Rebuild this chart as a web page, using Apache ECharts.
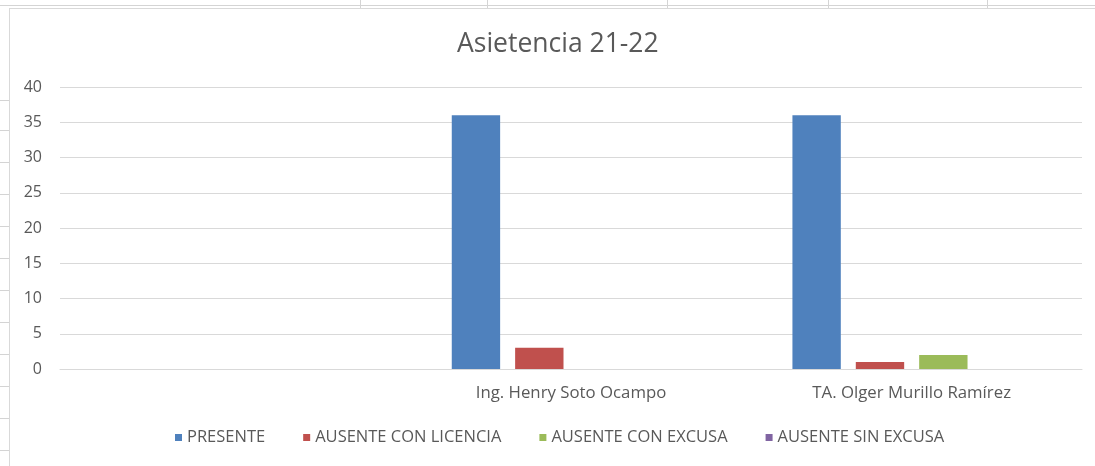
<!DOCTYPE html>
<html>
<head>
<meta charset="utf-8">
<script src="https://cdn.jsdelivr.net/npm/echarts@6/dist/echarts.min.js"></script>
<style>
  html, body { margin: 0; padding: 0; background: #fff; }
  .sheet { position: relative; width: 1095px; height: 466px; overflow: hidden; }
  .vline { position: absolute; top: 0; width: 1px; height: 8px; background: #d4d4d4; }
  .hline { position: absolute; left: 0; width: 9px; height: 1px; background: #d4d4d4; }
  .frame {
    position: absolute; left: 9px; top: 8px; width: 1090px; height: 460px;
    background: #fff; border: 1px solid #d9d9d9; box-sizing: border-box;
  }
  #main { position: absolute; left: 0; top: 0; width: 1095px; height: 466px; }
</style>
</head>
<body>
<div class="sheet">
  <div class="vline" style="left:360px"></div>
  <div class="vline" style="left:487px"></div>
  <div class="vline" style="left:667px"></div>
  <div class="vline" style="left:828px"></div>
  <div class="vline" style="left:987px"></div>
  <div class="hline" style="top:5px;width:1095px"></div>
  <div class="hline" style="top:100px"></div>
  <div class="hline" style="top:130px"></div>
  <div class="hline" style="top:162px"></div>
  <div class="hline" style="top:194px"></div>
  <div class="hline" style="top:226px"></div>
  <div class="hline" style="top:258px"></div>
  <div class="hline" style="top:290px"></div>
  <div class="hline" style="top:322px"></div>
  <div class="hline" style="top:354px"></div>
  <div class="hline" style="top:386px"></div>
  <div class="hline" style="top:418px"></div>
  <div class="hline" style="top:450px"></div>
  <div class="frame"></div>
  <div id="main"></div>
</div>
<script>
// datos
const categorias = ['', 'Ing. Henry Soto Ocampo', 'TA. Olger Murillo Ramírez']
const presente = [0, 36, 36]
const conLicencia = [0, 3, 1]
const conExcusa = [0, 0, 2]
const sinExcusa = [0, 0, 0]
const ticks = [0, 5, 10, 15, 20, 25, 30, 35, 40]

const colores = ['#4f81bd', '#c0504d', '#9bbb59', '#8064a2']
const fuente = 'Open Sans'
const gris = '#595959'

const chart = echarts.init(document.getElementById('main'))

const serie = (name, data) => ({
  name, type: 'bar', data,
  barGap: '31%', barCategoryGap: '30%'
})

chart.setOption({
  color: colores,
  backgroundColor: 'transparent',
  animation: false,
  title: {
    text: 'Asietencia 21-22', left: 452, top: 26,
    textStyle: { fontFamily: fuente, fontSize: 26.5, fontWeight: 'normal', color: gris }
  },
  legend: {
    top: 424, left: 170,
    itemWidth: 7, itemHeight: 7, itemGap: 38,
    icon: 'rect',
    textStyle: { fontFamily: fuente, fontSize: 16.5, color: gris }
  },
  grid: { left: 60, right: 13, top: 87, bottom: 97 },
  xAxis: {
    type: 'category', data: categorias,
    axisLine: { lineStyle: { color: '#d9d9d9' } },
    axisTick: { show: false },
    axisLabel: { fontFamily: fuente, fontSize: 16.8, color: gris, margin: 16 }
  },
  yAxis: {
    type: 'value', min: ticks[0], max: ticks[ticks.length - 1], interval: 5,
    axisLine: { show: false },
    axisTick: { show: false },
    splitLine: { lineStyle: { color: '#d9d9d9' } },
    axisLabel: { fontFamily: fuente, fontSize: 16, color: gris, margin: 18 }
  },
  series: [
    serie('PRESENTE', presente),
    serie('AUSENTE CON LICENCIA', conLicencia),
    serie('AUSENTE CON EXCUSA', conExcusa),
    serie('AUSENTE SIN EXCUSA', sinExcusa)
  ]
})
</script>
</body>
</html>
